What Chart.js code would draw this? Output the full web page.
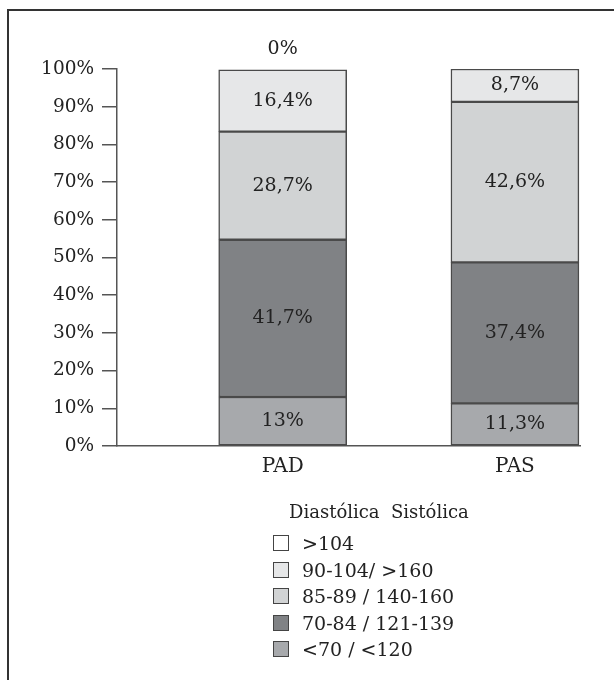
<!DOCTYPE html>
<html>
<head>
<meta charset="utf-8">
<script src="https://cdn.jsdelivr.net/npm/chart.js@4.4.0/dist/chart.umd.min.js"></script>
<style>
  html, body { margin: 0; padding: 0; background: #fff; }
  #wrap { position: relative; width: 614px; height: 680px; overflow: hidden; }
  #frame { position: absolute; left: 7px; top: 9px; width: 640px; height: 700px;
           border-top: 2px solid #333; border-left: 2px solid #333; }
  #chart { position: absolute; left: 0; top: 0; }
  #legend { position: absolute; left: 273px; top: 497px; font-family: "DejaVu Serif", serif;
            font-size: 19px; color: #222; }
  #legend .title { height: 30px; line-height: 30px; padding-left: 16px; margin-bottom: 3px;
                   white-space: pre; font-size: 18px; }
  #legend .row { display: flex; align-items: center; height: 26.5px; white-space: pre; }
  #legend .box { width: 14px; height: 14px; border: 1.5px solid #444; margin-right: 13px; }
</style>
</head>
<body>
<div id="wrap">
  <div id="frame"></div>
  <canvas id="chart" width="614" height="680"></canvas>
  <div id="legend"></div>
</div>
<script>
// Blood pressure distribution, diastolic (PAD) and systolic (PAS), in %
const categories = ['PAD', 'PAS'];
const seriesLabels = ['<70 / <120', '70-84 / 121-139', '85-89 / 140-160', '90-104/ >160', '>104'];
const seriesColors = ['#a7a9ac', '#808285', '#d1d3d4', '#e6e7e8', '#ffffff'];
const below70 = [13, 11.3];
const from70to84 = [41.7, 37.4];
const from85to89 = [28.7, 42.6];
const from90to104 = [16.4, 8.7];
const above104 = [0, null];
const yTicks = [0, 10, 20, 30, 40, 50, 60, 70, 80, 90, 100];
const legendTitle = 'Diastólica  Sistólica';

const seriesValues = [below70, from70to84, from85to89, from90to104, above104];
const SERIF = 'DejaVu Serif';
const VALUE_SIZE = 19;

const fmt = v => String(v).replace('.', ',') + '%';

const datasets = seriesValues.map((vals, k) => ({
  label: seriesLabels[k],
  data: vals.map((v, i) => ({ x: i + 1, y: v })),
  backgroundColor: seriesColors[k],
  borderColor: '#4a4a4a',
  borderWidth: 1.5,
  borderSkipped: false,
  barThickness: 128
}));

// Writes each segment's value in its middle; a zero share goes above the stack
const valueLabels = {
  id: 'valueLabels',
  afterDatasetsDraw(chart) {
    const ctx = chart.ctx;
    ctx.save();
    ctx.font = VALUE_SIZE + 'px "' + SERIF + '"';
    ctx.fillStyle = '#222';
    ctx.textAlign = 'center';
    ctx.textBaseline = 'middle';
    chart.data.datasets.forEach((ds, di) => {
      chart.getDatasetMeta(di).data.forEach((bar, i) => {
        const v = ds.data[i].y;
        if (v === null || v === undefined) return;
        const y = v === 0 ? bar.y - 21 : (bar.y + bar.base) / 2;
        ctx.fillText(fmt(v), bar.x, y);
      });
    });
    ctx.restore();
  }
};

const chart = new Chart(document.getElementById('chart'), {
  type: 'bar',
  data: { datasets },
  plugins: [valueLabels],
  options: {
    responsive: false,
    animation: false,
    devicePixelRatio: 1,
    layout: { padding: { left: 0, right: 34, top: 69, bottom: 0 } },
    plugins: { legend: { display: false }, tooltip: { enabled: false } },
    scales: {
      x: {
        type: 'linear',
        stacked: true,
        offset: false,
        bounds: 'data',
        min: 0.2866,
        max: 2.2802,
        afterBuildTicks: s => { s.ticks = categories.map((c, i) => ({ value: i + 1 })); },
        afterFit: s => { s.height = 234; },
        border: { color: '#555', width: 1.5 },
        grid: { display: true, offset: false, drawOnChartArea: false, drawTicks: false },
        ticks: {
          autoSkip: false,
          padding: 9,
          color: '#222',
          font: { family: SERIF, size: 20 },
          callback: v => categories[v - 1]
        }
      },
      y: {
        stacked: true,
        min: 0,
        max: 100,
        afterBuildTicks: s => { s.ticks = yTicks.map(v => ({ value: v })); },
        afterFit: s => { s.width = 117; },
        border: { color: '#555', width: 1.5 },
        grid: { drawOnChartArea: false, tickLength: 15, color: '#555', lineWidth: 1.5 },
        ticks: { padding: 8, color: '#222', font: { family: SERIF, size: 18.5 }, callback: v => v + '%' }
      }
    }
  }
});

// Legend listed from the top band down to the bottom one
const legend = document.getElementById('legend');
const title = document.createElement('div');
title.className = 'title';
title.textContent = legendTitle;
legend.appendChild(title);
chart.data.datasets.slice().reverse().forEach(ds => {
  const row = document.createElement('div');
  row.className = 'row';
  const box = document.createElement('span');
  box.className = 'box';
  box.style.background = ds.backgroundColor;
  const txt = document.createElement('span');
  txt.textContent = ds.label;
  row.appendChild(box);
  row.appendChild(txt);
  legend.appendChild(row);
});
</script>
</body>
</html>
